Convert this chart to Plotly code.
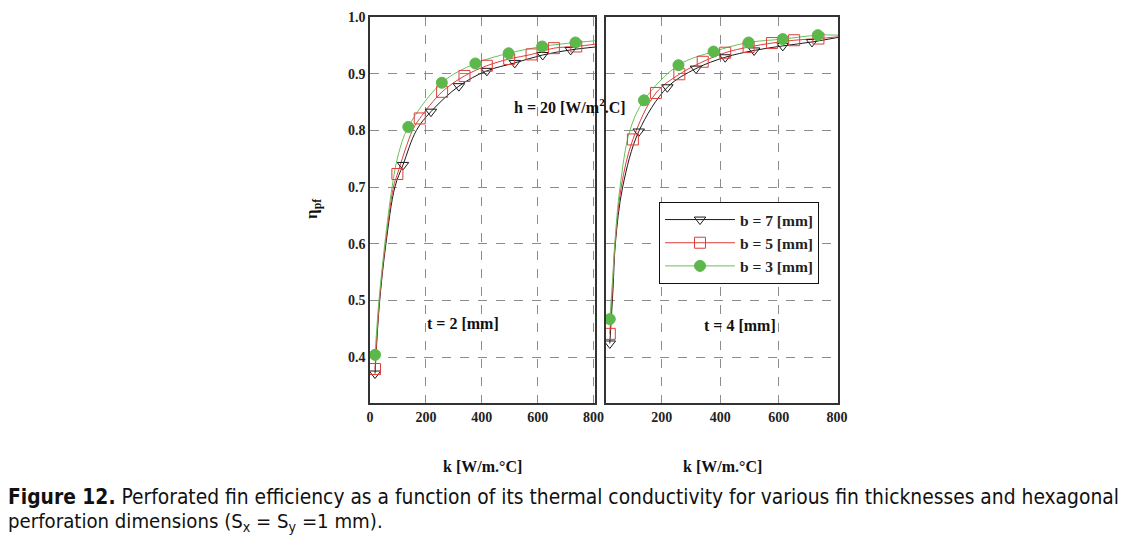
import plotly.graph_objects as go

W, H = 1142, 546

# ---------------- data ----------------
# Left panel: t = 2 mm
t2_b7_k = [18, 118, 218, 318, 418, 518, 618, 718]
t2_b7_eta = [0.371, 0.739, 0.833, 0.878, 0.905, 0.919, 0.933, 0.942]
t2_b5_k = [18, 98, 178, 258, 338, 418, 498, 578, 658, 738]
t2_b5_eta = [0.379, 0.723, 0.821, 0.868, 0.896, 0.914, 0.926, 0.934, 0.945, 0.948]
t2_b3_k = [18, 137, 257, 377, 496, 616, 735]
t2_b3_eta = [0.404, 0.806, 0.884, 0.918, 0.936, 0.948, 0.955]
# extra points (no markers there)
t2_b7_curve_k = [33, 57, 89, 166, 805]
t2_b7_curve_eta = [0.49, 0.60, 0.70, 0.80, 0.947]
t2_b5_curve_k = [32, 55, 84, 152, 805]
t2_b5_curve_eta = [0.49, 0.60, 0.70, 0.80, 0.952]
t2_b3_curve_k = [32, 53, 79, 100, 805]
t2_b3_curve_eta = [0.50, 0.60, 0.70, 0.755, 0.958]

# Right panel: t = 4 mm
t4_b7_k = [22, 121, 219, 317, 417, 516, 614, 714]
t4_b7_eta = [0.424, 0.798, 0.876, 0.909, 0.929, 0.941, 0.949, 0.956]
t4_b5_k = [22, 101, 180, 260, 340, 417, 497, 577, 653, 736]
t4_b5_eta = [0.441, 0.784, 0.866, 0.899, 0.921, 0.937, 0.947, 0.954, 0.959, 0.962]
t4_b3_k = [22, 139, 257, 377, 497, 614, 734]
t4_b3_eta = [0.467, 0.853, 0.915, 0.939, 0.955, 0.961, 0.968]
t4_b7_curve_k = [33, 41, 66, 803]
t4_b7_curve_eta = [0.52, 0.60, 0.70, 0.964]
t4_b5_curve_k = [32, 40, 61, 803]
t4_b5_curve_eta = [0.53, 0.60, 0.70, 0.965]
t4_b3_curve_k = [32, 39, 57, 91, 803]
t4_b3_curve_eta = [0.54, 0.60, 0.70, 0.80, 0.968]

series_names = ["b = 7 [mm]", "b = 5 [mm]", "b = 3 [mm]"]
x_ticks = [0, 200, 400, 600, 800]
y_ticks = [0.4, 0.5, 0.6, 0.7, 0.8, 0.9, 1.0]
y_tick_text = ["0.4", "0.5", "0.6", "0.7", "0.8", "0.9", "1.0"]

# ---------------- styling ----------------
SERIF = "Liberation Serif, Times New Roman, serif"
BLACK = "#1a1a1a"
RED = "#dc3f3a"
GREEN = "#5cb84a"
GREEN_LINE = "#6cbf5c"

styles = [
    dict(color=BLACK, line=BLACK, symbol="triangle-down-open", size=10, lw=1),
    dict(color=RED, line=RED, symbol="square-open", size=11, lw=1),
    dict(color=GREEN, line=GREEN_LINE, symbol="circle", size=11, lw=1),
]


def merged(k, e, ck, ce):
    pts = sorted(zip(list(k) + list(ck), list(e) + list(ce)))
    return [p[0] for p in pts], [p[1] for p in pts]


panels = [
    ("x", "y", [(t2_b7_k, t2_b7_eta, t2_b7_curve_k, t2_b7_curve_eta),
                (t2_b5_k, t2_b5_eta, t2_b5_curve_k, t2_b5_curve_eta),
                (t2_b3_k, t2_b3_eta, t2_b3_curve_k, t2_b3_curve_eta)]),
    ("x2", "y2", [(t4_b7_k, t4_b7_eta, t4_b7_curve_k, t4_b7_curve_eta),
                  (t4_b5_k, t4_b5_eta, t4_b5_curve_k, t4_b5_curve_eta),
                  (t4_b3_k, t4_b3_eta, t4_b3_curve_k, t4_b3_curve_eta)]),
]

fig = go.Figure()

for xa, ya, sers in panels:
    for (k, e, ck, ce), st in zip(sers, styles):
        lx, ly = merged(k, e, ck, ce)
        fig.add_trace(go.Scatter(
            x=lx, y=ly, xaxis=xa, yaxis=ya, mode="lines",
            line=dict(color=st["line"], width=st["lw"], shape="spline", smoothing=1.0),
            showlegend=False, hoverinfo="skip"))
    for (k, e, ck, ce), st in zip(sers, styles):
        fig.add_trace(go.Scatter(
            x=k, y=e, xaxis=xa, yaxis=ya, mode="markers",
            marker=dict(symbol=st["symbol"], size=st["size"], color=st["color"],
                        line=dict(color=st["color"], width=1)),
            showlegend=False))

# legend entries
for name, st in zip(series_names, styles):
    fig.add_trace(go.Scatter(
        x=[None], y=[None], xaxis="x2", yaxis="y2", mode="lines+markers", name=name,
        line=dict(color=st["line"], width=1),
        marker=dict(symbol=st["symbol"], size=st["size"], color=st["color"],
                    line=dict(color=st["color"], width=1))))


def px(x):
    return x / W


def py(y):
    return 1 - y / H


axis_common = dict(
    showline=True, mirror=True, linecolor="#333333", linewidth=1.5,
    showgrid=True, gridcolor="#8c8c8c", gridwidth=1, griddash="dash",
    zeroline=False, ticks="", automargin=False,
    tickfont=dict(family=SERIF, size=14, color="#222222", weight="bold"),
)

fig.update_layout(
    width=W, height=H, autosize=False,
    margin=dict(l=0, r=0, t=0, b=0, pad=0, autoexpand=False),
    paper_bgcolor="white", plot_bgcolor="white",
    xaxis=dict(domain=[px(370), px(595)], range=[0, 805], anchor="y",
               tickvals=x_ticks, **axis_common),
    xaxis2=dict(domain=[px(606), px(838)], range=[9, 803], anchor="y2",
                tickvals=x_ticks[1:], **axis_common),
    yaxis=dict(domain=[py(403), py(17)], range=[0.319, 1.0], anchor="x",
               tickvals=y_ticks, ticktext=y_tick_text, **axis_common),
    yaxis2=dict(domain=[py(403), py(17)], range=[0.319, 1.0], anchor="x2",
                tickvals=y_ticks, showticklabels=False, **axis_common),
    legend=dict(x=px(659), y=py(202), xanchor="left", yanchor="top",
                bordercolor="#111111", borderwidth=1, bgcolor="white",
                font=dict(family=SERIF, size=15.5, color="#222222", weight="bold"),
                traceorder="normal", itemwidth=70, tracegroupgap=0),
    showlegend=True,
)

ann_font = dict(family=SERIF, size=16, color="#111111")
annots = [
    dict(text="<b>h = 20 [W/m<sup>2</sup>.C]</b>", x=px(570), y=py(106)),
    dict(text="<b>t = 2 [mm]</b>", x=px(463), y=py(323)),
    dict(text="<b>t = 4 [mm]</b>", x=px(740), y=py(325)),
    dict(text="<b>k [W/m.°C]</b>", x=px(482), y=py(466)),
    dict(text="<b>k [W/m.°C]</b>", x=px(722), y=py(466)),
]
for a in annots:
    fig.add_annotation(xref="paper", yref="paper", showarrow=False,
                       xanchor="center", yanchor="middle", font=ann_font, **a)

fig.add_annotation(xref="paper", yref="paper", showarrow=False,
                   text="<b>η<sub>pf</sub></b>", textangle=-90,
                   x=px(313), y=py(209), xanchor="center", yanchor="middle",
                   font=dict(family=SERIF, size=17, color="#111111"))

CAP = "Liberation Sans Narrow, DejaVu Sans Condensed, Liberation Sans, sans-serif"
fig.add_annotation(xref="paper", yref="paper", showarrow=False, align="left",
                   text="<b>Figure 12.</b> Perforated fin efficiency as a function of its thermal conductivity for various fin thicknesses and hexagonal",
                   x=px(6), y=py(497), xanchor="left", yanchor="middle",
                   font=dict(family=CAP, size=20.8, color="#111111"))
fig.add_annotation(xref="paper", yref="paper", showarrow=False, align="left",
                   text="perforation dimensions (S<sub>x</sub> = S<sub>y</sub> =1 mm).",
                   x=px(6), y=py(522), xanchor="left", yanchor="middle",
                   font=dict(family=CAP, size=20.2, color="#111111"))

fig.write_html("out.html", config={"displayModeBar": False},
               post_script="document.body.style.margin='0px';document.body.style.overflow='hidden';")
